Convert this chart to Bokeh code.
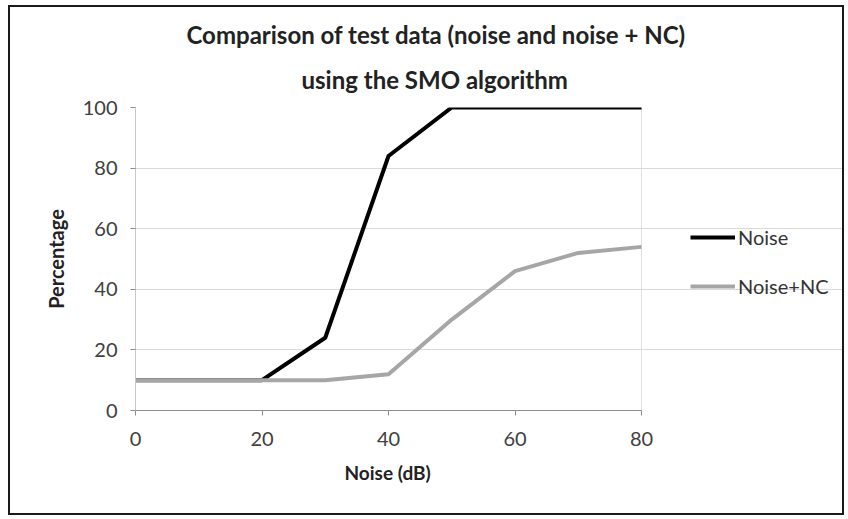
from bokeh.plotting import figure
from bokeh.models import Range1d, FixedTicker, Legend, LegendItem, Title
from bokeh.embed import file_html
from bokeh.resources import INLINE

# data
noise_db = [0, 10, 20, 30, 40, 50, 60, 70, 80]
noise = [10, 10, 10, 24, 84, 100, 100, 100, 100]
noise_nc = [10, 10, 10, 10, 12, 30, 46, 52, 54]
x_ticks = [0, 20, 40, 60, 80]
y_ticks = [0, 20, 40, 60, 80, 100]
title_line1 = "Comparison of test data (noise and noise + NC)"
title_line2 = "using the SMO algorithm"
x_label = "Noise (dB)"
y_label = "Percentage"

FONT = "Lato"
X_MAX = 80
# frame extends to the right edge so the legend can live inside it; x axis is bounded to 0..80
frame_px = 846 - 135
data_px = 641 - 135
x_end = X_MAX * frame_px / data_px

p = figure(width=836, height=510, output_backend="svg", toolbar_location=None,
           x_range=Range1d(0, x_end), y_range=Range1d(0, 100), title=None,
           min_border_left=125, min_border_right=0, min_border_top=100, min_border_bottom=107)
p.margin = (5, 0, 0, 8)
p.styles = {"border": "2px solid #1a1a1a"}
p.background_fill_color = "white"
p.border_fill_color = "white"
p.outline_line_color = None

t2 = Title(text=title_line2, text_font=FONT, text_font_size="24px", text_font_style="bold",
           text_color="#222222", align="left", offset=166, standoff=28)
t1 = Title(text=title_line1, text_font=FONT, text_font_size="24px", text_font_style="bold",
           text_color="#222222", align="left", offset=51, standoff=0)
p.add_layout(t2, "above")
p.add_layout(t1, "above")

# axes
for ax in (p.xaxis, p.yaxis):
    ax.axis_line_color = "#8c8c8c"
    ax.major_tick_line_color = "#8c8c8c"
    ax.major_tick_out = 5
    ax.major_tick_in = 0
    ax.minor_tick_line_color = None
    ax.major_label_text_font = FONT
    ax.major_label_text_font_size = "20px"
    ax.major_label_text_color = "#404040"
    ax.axis_label_text_font = FONT
    ax.axis_label_text_font_style = "bold"
    ax.axis_label_text_font_size = "20px"
    ax.axis_label_text_color = "#222222"

p.xaxis.ticker = FixedTicker(ticks=x_ticks)
p.xaxis.bounds = (0, X_MAX)
p.yaxis.ticker = FixedTicker(ticks=y_ticks)
p.yaxis.axis_label = y_label
p.xaxis.major_label_standoff = 16
p.yaxis.major_label_standoff = 13
p.yaxis.axis_label_standoff = 12
p.yaxis.axis_line_color = "#c8c8c8"

xt = Title(text=x_label, text_font=FONT, text_font_size="19px", text_font_style="bold",
           text_color="#222222", align="left", offset=209, standoff=21)
p.add_layout(xt, "below")

p.ygrid.ticker = FixedTicker(ticks=y_ticks[1:])
p.ygrid.grid_line_color = "#d9d9d9"
p.ygrid.grid_line_width = 1
p.ygrid.bounds = (0, X_MAX)
p.xgrid.ticker = FixedTicker(ticks=[X_MAX])
p.xgrid.grid_line_color = "#e0e0e0"

r1 = p.line(noise_db, noise, line_color="black", line_width=4)
r2 = p.line(noise_db, noise_nc, line_color="#a6a6a6", line_width=4)

legend = Legend(items=[LegendItem(label="Noise", renderers=[r1]),
                       LegendItem(label="Noise+NC", renderers=[r2])],
                location=(555, 112))
legend.border_line_color = None
legend.background_fill_alpha = 0
legend.padding = 0
legend.margin = 0
legend.spacing = 25
legend.glyph_width = 45
legend.glyph_height = 20
legend.label_height = 20
legend.label_standoff = 3
legend.label_text_font = FONT
legend.label_text_font_size = "20px"
legend.label_text_color = "#333333"
p.add_layout(legend, "center")

open("out.html", "w").write(file_html(p, INLINE))
